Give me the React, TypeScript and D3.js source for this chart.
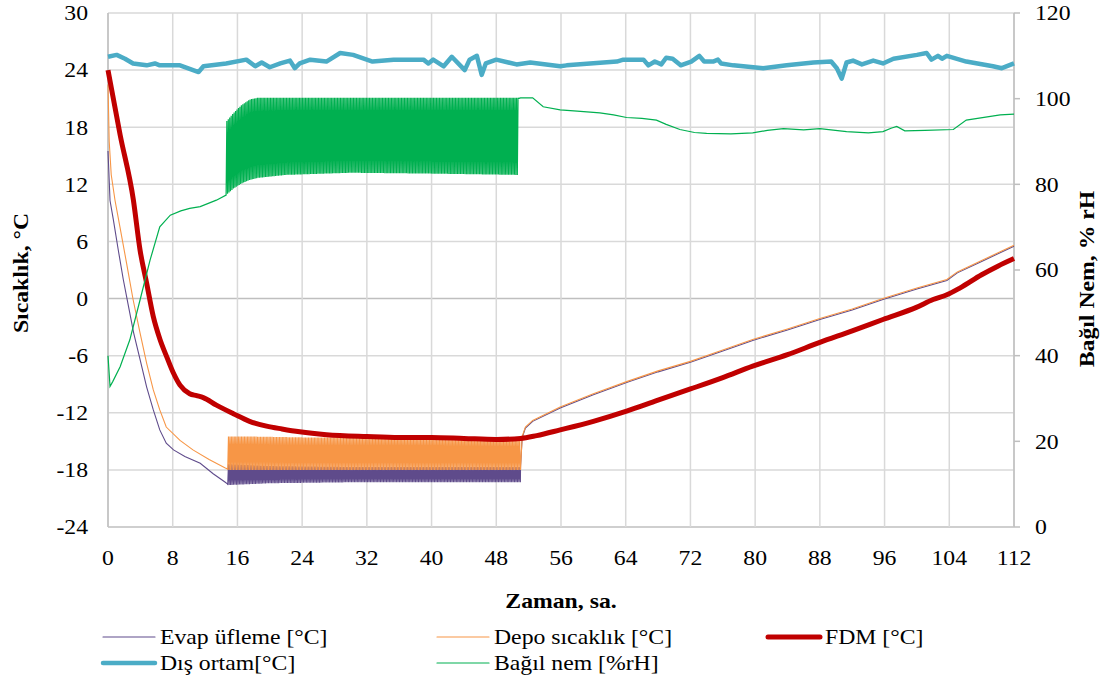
import * as d3 from 'd3';

const W = 1102;
const H = 686;
const margin = { top: 13, right: 88, bottom: 159, left: 108 };

const hourTicks = [0, 8, 16, 24, 32, 40, 48, 56, 64, 72, 80, 88, 96, 104, 112];
const tempTicks = [-24, -18, -12, -6, 0, 6, 12, 18, 24, 30];
const rhTicks = [0, 20, 40, 60, 80, 100, 120];

// Evap üfleme [°C]: cool-down, then compressor cycling, then warm-up
const evapPreHours = [0, 0.25, 0.66, 1.27, 1.89, 2.54, 3.17, 3.96, 4.78, 5.6, 6.4, 7.2, 8.1, 9.5, 11.4, 13, 14.5, 14.8];
const evapPreTemp = [15.5, 10.3, 8.3, 5.1, 2.0, -0.85, -3.6, -6.4, -9.3, -11.7, -13.8, -15.2, -15.9, -16.6, -17.3, -18.4, -19.3, -19.5];
const evapCycleHours = [14.8, 20, 30, 40, 51];
const evapCycleHigh = [-17.4, -17.6, -17.7, -17.7, -17.7];
const evapCycleLow = [-19.6, -19.4, -19.3, -19.3, -19.3];
const evapPostHours = [51, 51.2, 51.6, 52.5, 55.9, 60, 64.2, 68, 72, 76, 79.7, 84, 88, 92, 95.8, 100, 103.7, 105, 108, 112];
const evapPostTemp = [-17.6, -14.6, -13.6, -12.9, -11.5, -10.1, -8.8, -7.7, -6.7, -5.5, -4.4, -3.3, -2.2, -1.2, -0.1, 1.0, 1.9, 2.7, 3.9, 5.5];

// Depo sıcaklık [°C]
const depoPreHours = [0, 0.15, 0.4, 0.87, 1.48, 2.3, 3.1, 3.96, 4.78, 5.6, 6.4, 7.2, 8.9, 10.5, 12.5, 14.5, 14.8];
const depoPreTemp = [22.5, 16.5, 13, 10.3, 7.5, 3.7, -0.1, -3.6, -6.8, -9.6, -11.7, -13.5, -14.9, -15.9, -16.9, -17.8, -17.9];
const depoCycleHours = [14.8, 18, 25, 35, 45, 51];
const depoCycleHigh = [-14.5, -14.5, -14.6, -14.6, -14.7, -14.8];
const depoCycleLow = [-18.0, -18.0, -18.0, -18.0, -18.0, -18.0];
const depoPostHours = [51, 51.2, 51.6, 52.5, 55.9, 60, 64.2, 68, 72, 76, 79.7, 84, 88, 92, 95.8, 100, 103.7, 105, 108, 112];
const depoPostTemp = [-17.9, -14.5, -13.5, -12.8, -11.4, -10.0, -8.7, -7.6, -6.6, -5.4, -4.3, -3.2, -2.1, -1.1, 0.0, 1.1, 2.0, 2.8, 4.0, 5.6];

// FDM [°C]
const fdmHours = [0, 1.5, 3.13, 3.96, 4.78, 5.6, 6.43, 7.25, 8.07, 8.9, 10.1, 10.96, 11.78, 13.4, 15.5, 17.5, 19.6, 21.5, 23.7, 27, 32, 36, 40, 44, 48, 51, 53, 55.9, 60, 64.2, 67.9, 72, 76, 79.7, 84, 88, 92, 95.8, 100, 102, 103.7, 105.3, 108, 110, 112];
const fdmTemp = [24, 17.2, 10.4, 5.1, 1.6, -1.9, -4.3, -6.1, -7.8, -9.1, -10.0, -10.2, -10.4, -11.2, -12.1, -12.9, -13.4, -13.7, -14.0, -14.3, -14.5, -14.6, -14.6, -14.7, -14.8, -14.7, -14.4, -13.8, -12.9, -11.8, -10.7, -9.5, -8.3, -7.1, -5.9, -4.6, -3.4, -2.2, -0.9, -0.1, 0.4, 1.1, 2.5, 3.4, 4.2];

// Dış ortam [°C]
const disHours = [0, 1.07, 2.1, 3.1, 4.78, 5.8, 6.4, 8.9, 11.2, 11.8, 14.6, 17.1, 18.2, 19, 20, 21.3, 22.5, 23.1, 23.7, 25, 27, 28.7, 30.3, 32.7, 35.3, 39, 39.6, 40.2, 41.5, 42.5, 44.1, 44.7, 45.6, 46.2, 46.7, 48, 50.5, 52.2, 55.9, 56.7, 62.9, 63.7, 66.2, 66.8, 67.6, 68.4, 69, 69.8, 70.8, 72.1, 73.1, 73.7, 74.8, 75.4, 75.8, 77.3, 81, 83.9, 87.2, 89.4, 90.1, 90.7, 91.3, 92.1, 93.2, 94.6, 95.8, 97.1, 100, 101.2, 101.8, 102.6, 103.1, 103.7, 106.1, 109.4, 110.5, 112];
const disTemp = [25.4, 25.6, 25.2, 24.7, 24.5, 24.7, 24.5, 24.5, 23.8, 24.4, 24.7, 25.1, 24.4, 24.8, 24.3, 24.7, 25.0, 24.2, 24.7, 25.1, 24.9, 25.8, 25.6, 24.9, 25.1, 25.1, 24.7, 25.1, 24.4, 25.4, 24.0, 25.1, 25.5, 23.5, 24.7, 25.1, 24.6, 24.8, 24.4, 24.5, 24.9, 25.1, 25.1, 24.5, 24.9, 24.6, 25.3, 25.2, 24.5, 24.9, 25.5, 24.9, 24.9, 25.1, 24.7, 24.5, 24.2, 24.5, 24.8, 24.9, 24.2, 23.1, 24.8, 25.0, 24.6, 25.0, 24.7, 25.2, 25.6, 25.8, 25.1, 25.5, 25.2, 25.5, 24.9, 24.4, 24.2, 24.7];

// Bağıl nem [%rH]
const rhPreHours = [0, 0.25, 0.6, 1.5, 2.7, 3.96, 5.2, 6.4, 7.7, 9, 10.1, 11.4, 13.4, 14.6];
const rhPreValue = [40, 32.8, 34, 37.4, 43.7, 53, 62.3, 70.1, 72.8, 73.8, 74.4, 74.8, 76.3, 77.5];
const rhCycleHours = [14.6, 15.5, 16.5, 17.5, 18.5, 22, 30, 40, 50.7];
const rhCycleHigh = [94.6, 96.6, 98.5, 99.8, 100.2, 100.2, 100.2, 100.2, 100.2];
const rhCycleLow = [77.5, 79, 80.2, 81, 81.5, 82.2, 82.7, 82.5, 82.2];
const rhPostHours = [50.7, 51, 52.5, 53.8, 55.9, 58, 60.8, 62.5, 64.1, 66, 67.8, 69, 70.7, 72.5, 74, 77, 79.7, 81.5, 83.5, 86, 88, 91.3, 94, 95.8, 96.8, 97.5, 98.5, 101, 104.5, 106.1, 110.3, 112];
const rhPostValue = [100, 100.2, 100.2, 98.1, 97.4, 97.1, 96.7, 96.2, 95.6, 95.4, 95.0, 94.0, 92.8, 92.1, 91.9, 91.8, 92.0, 92.6, 93.0, 92.7, 93.0, 92.3, 92.0, 92.3, 93.1, 93.5, 92.5, 92.6, 92.8, 95.0, 96.2, 96.4];

// half period of the on/off cycling, hours
const cycleHalfStep = 0.09;

type Pt = [number, number];

const zip = (xs: number[], ys: number[]): Pt[] => xs.map((x, i) => [x, ys[i]]);

const cycling = (hours: number[], high: number[], low: number[]): Pt[] => {
  const hi = d3.scaleLinear().domain(hours).range(high);
  const lo = d3.scaleLinear().domain(hours).range(low);
  const start = hours[0];
  const end = hours[hours.length - 1];
  const n = Math.floor((end - start) / cycleHalfStep);
  return d3.range(n + 1).map(i => {
    const t = start + i * cycleHalfStep;
    return [t, i % 2 === 0 ? lo(t) : hi(t)] as Pt;
  });
};

const FONT = "'Liberation Serif'";
const FS = 21;
const STRETCH = 1.13; // the source text is drawn a little wide

// text in Times-like serif, widened horizontally like the original
const Label = ({ x, y, anchor = 'start', bold = false, rotate = 0, children }:
  { x: number; y: number; anchor?: string; bold?: boolean; rotate?: number; children: any }) => (
  <g transform={`translate(${x},${y}) rotate(${rotate}) scale(${STRETCH},1)`}>
    <text x={0} y={0} dy="0.35em" textAnchor={anchor} fontFamily={FONT} fontSize={FS}
      fontWeight={bold ? 'bold' : 'normal'} fill="#000">{children}</text>
  </g>
);

const App = () => {
  const innerW = W - margin.left - margin.right;
  const innerH = H - margin.top - margin.bottom;

  const x = d3.scaleLinear().domain([0, 112]).range([margin.left, margin.left + innerW]);
  const yT = d3.scaleLinear().domain([-24, 30]).range([margin.top + innerH, margin.top]);
  const yR = d3.scaleLinear().domain([0, 120]).range([margin.top + innerH, margin.top]);

  const lineT = d3.line<Pt>().x(d => x(d[0])).y(d => yT(d[1]));
  const lineR = d3.line<Pt>().x(d => x(d[0])).y(d => yR(d[1]));
  const smoothT = d3.line<Pt>().x(d => x(d[0])).y(d => yT(d[1])).curve(d3.curveMonotoneX);

  const evap = [...zip(evapPreHours, evapPreTemp), ...cycling(evapCycleHours, evapCycleHigh, evapCycleLow), ...zip(evapPostHours, evapPostTemp)];
  const depo = [...zip(depoPreHours, depoPreTemp), ...cycling(depoCycleHours, depoCycleHigh, depoCycleLow), ...zip(depoPostHours, depoPostTemp)];
  const rh = [...zip(rhPreHours, rhPreValue), ...cycling(rhCycleHours, rhCycleHigh, rhCycleLow), ...zip(rhPostHours, rhPostValue)];

  const series = [
    { name: 'Evap üfleme [°C]', color: '#5f4b8b', width: 1.1 },
    { name: 'Depo sıcaklık [°C]', color: '#f79646', width: 1.1 },
    { name: 'FDM [°C]', color: '#c00000', width: 5 },
    { name: 'Dış ortam[°C]', color: '#4bacc6', width: 4.5 },
    { name: 'Bağıl nem [%rH]', color: '#00b050', width: 1.2 },
  ];
  const legendCols = [103, 437, 768];
  const legendRows = [637, 663];

  const x0 = margin.left;
  const x1 = margin.left + innerW;
  const yTop = margin.top;
  const yBot = margin.top + innerH;

  return (
    <svg width={W} height={H} style={{ position: 'absolute', left: 0, top: 0, background: '#fff' }}>
      {/* grid */}
      {tempTicks.map(t => (
        <line key={'h' + t} x1={x0} x2={x1} y1={yT(t)} y2={yT(t)}
          stroke={t === 0 || t === -24 ? '#bfbfbf' : '#d9d9d9'} strokeWidth={1.5} />
      ))}
      {hourTicks.map(h => (
        <line key={'v' + h} x1={x(h)} x2={x(h)} y1={yTop} y2={yBot} stroke="#d9d9d9" strokeWidth={1.5} />
      ))}
      <line x1={x0} x2={x0} y1={yTop} y2={yBot} stroke="#bfbfbf" strokeWidth={1.5} />
      <line x1={x1} x2={x1} y1={yTop} y2={yBot} stroke="#bfbfbf" strokeWidth={1.5} />
      {rhTicks.map(r => (
        <line key={'rt' + r} x1={x1} x2={x1 + 6} y1={yR(r)} y2={yR(r)} stroke="#bfbfbf" strokeWidth={1.5} />
      ))}

      {/* series */}
      <path d={lineT(evap) || ''} fill="none" stroke={series[0].color} strokeWidth={series[0].width} />
      <path d={lineT(depo) || ''} fill="none" stroke={series[1].color} strokeWidth={series[1].width} />
      <path d={smoothT(zip(fdmHours, fdmTemp)) || ''} fill="none" stroke={series[2].color} strokeWidth={series[2].width} strokeLinejoin="round" />
      <path d={lineT(zip(disHours, disTemp)) || ''} fill="none" stroke={series[3].color} strokeWidth={series[3].width} strokeLinejoin="round" />
      <path d={lineR(rh) || ''} fill="none" stroke={series[4].color} strokeWidth={series[4].width} />

      {/* axis labels */}
      {tempTicks.map(t => (
        <Label key={'tl' + t} x={x0 - 20} y={yT(t)} anchor="end">{t}</Label>
      ))}
      {rhTicks.map(r => (
        <Label key={'rl' + r} x={x1 + 21} y={yR(r)}>{r}</Label>
      ))}
      {hourTicks.map(h => (
        <Label key={'hl' + h} x={x(h)} y={558} anchor="middle">{h}</Label>
      ))}

      <Label x={(x0 + x1) / 2} y={601} anchor="middle" bold>Zaman, sa.</Label>
      <Label x={21} y={273} anchor="middle" bold rotate={-90}>Sıcaklık, °C</Label>
      <Label x={1087} y={279} anchor="middle" bold rotate={-90}>Bağıl Nem, % rH</Label>

      {/* legend */}
      {series.map((s, i) => {
        const lx = legendCols[i % 3];
        const ly = legendRows[Math.floor(i / 3)];
        return (
          <g key={s.name}>
            <line x1={lx} x2={lx + 52} y1={ly} y2={ly} stroke={s.color} strokeWidth={s.width} strokeLinecap="round" />
            <Label x={lx + 57} y={ly}>{s.name}</Label>
          </g>
        );
      })}
    </svg>
  );
};

export default App;
